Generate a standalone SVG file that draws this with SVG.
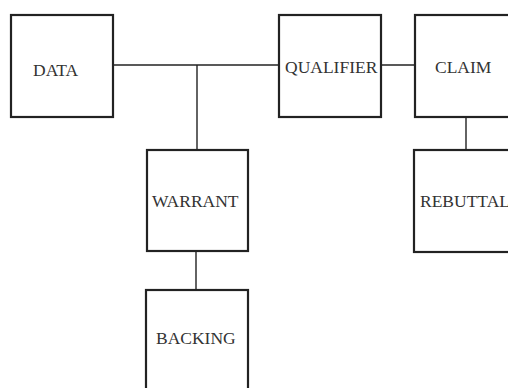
<svg xmlns="http://www.w3.org/2000/svg" width="508" height="388" viewBox="0 0 508 388">
<style>
.box{fill:#fff;stroke:#222;stroke-width:2.2}
.lbl{font-family:"Liberation Serif","Times New Roman",serif;font-size:17.5px;fill:#333}
.conn{stroke:#222;stroke-width:1.4;fill:none}
</style>
<rect width="508" height="388" fill="#fff"/>
<g id="connectors">
<line class="conn" x1="113" y1="65" x2="279" y2="65"/>
<line class="conn" x1="197" y1="65" x2="197" y2="150"/>
<line class="conn" x1="381" y1="65" x2="415" y2="65"/>
<line class="conn" x1="466" y1="117" x2="466" y2="150"/>
<line class="conn" x1="196" y1="251" x2="196" y2="290"/>
</g>
<g id="data"><rect class="box" x="11" y="15" width="102" height="102"/><text class="lbl" x="33" y="76">DATA</text></g>
<g id="qualifier"><rect class="box" x="279" y="15" width="102" height="102"/><text class="lbl" x="285" y="73">QUALIFIER</text></g>
<g id="claim"><rect class="box" x="415" y="15" width="102" height="102"/><text class="lbl" x="435" y="72.5">CLAIM</text></g>
<g id="warrant"><rect class="box" x="147" y="150" width="101" height="101"/><text class="lbl" x="152" y="207">WARRANT</text></g>
<g id="rebuttal"><rect class="box" x="414" y="150" width="102" height="102"/><text class="lbl" x="420" y="207">REBUTTAL</text></g>
<g id="backing"><rect class="box" x="146" y="290" width="102" height="102"/><text class="lbl" x="156" y="344">BACKING</text></g>
</svg>
